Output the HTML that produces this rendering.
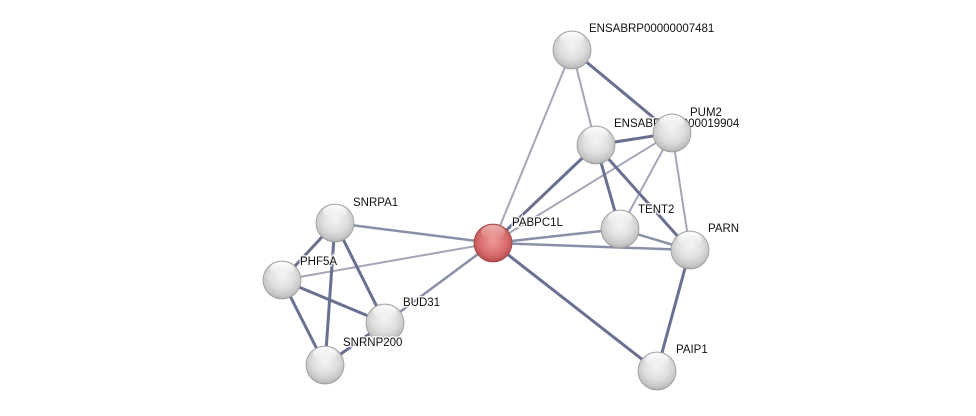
<!DOCTYPE html>
<html><head><meta charset="utf-8"><style>html,body{margin:0;padding:0;background:#fff;}svg{display:block}</style></head>
<body>
<svg width="976" height="416" viewBox="0 0 976 416" xmlns="http://www.w3.org/2000/svg">
<defs>
<radialGradient id="g" cx="50%" cy="40%" r="62%">
<stop offset="0" stop-color="#f4f4f4"/><stop offset="0.55" stop-color="#dedede"/><stop offset="0.85" stop-color="#c4c4c4"/><stop offset="1" stop-color="#a8a8a8"/>
</radialGradient>
<radialGradient id="r" cx="50%" cy="45%" r="62%">
<stop offset="0" stop-color="#f09a9a"/><stop offset="0.6" stop-color="#d86c6c"/><stop offset="1" stop-color="#a84040"/>
</radialGradient>
<linearGradient id="hl" x1="0" y1="0" x2="0" y2="1"><stop offset="0" stop-color="#fff" stop-opacity="0.95"/><stop offset="1" stop-color="#fff" stop-opacity="0"/></linearGradient>
</defs>
<g stroke-linecap="butt">
<g stroke="#a2a6b8" stroke-width="2">
<line x1="493" y1="243" x2="572" y2="50"/>
<line x1="493" y1="243" x2="672" y2="133"/>
<line x1="493" y1="243" x2="282" y2="280"/>
<line x1="572" y1="50" x2="596" y2="145"/>
<line x1="672" y1="133" x2="620" y2="229"/>
<line x1="672" y1="133" x2="690" y2="250"/>
</g>
<g stroke="#8a90a8" stroke-width="2.5">
<line x1="493" y1="243" x2="620" y2="229"/>
<line x1="493" y1="243" x2="690" y2="250"/>
<line x1="493" y1="243" x2="335" y2="223"/>
<line x1="493" y1="243" x2="385" y2="323"/>
<line x1="620" y1="229" x2="690" y2="250"/>
</g>
<g stroke="#6a7090" stroke-width="3">
<line x1="493" y1="243" x2="596" y2="145"/>
<line x1="493" y1="243" x2="657" y2="371"/>
<line x1="572" y1="50" x2="672" y2="133"/>
<line x1="596" y1="145" x2="672" y2="133"/>
<line x1="596" y1="145" x2="620" y2="229"/>
<line x1="596" y1="145" x2="690" y2="250"/>
<line x1="690" y1="250" x2="657" y2="371"/>
<line x1="335" y1="223" x2="282" y2="280"/>
<line x1="335" y1="223" x2="325" y2="365"/>
<line x1="335" y1="223" x2="385" y2="323"/>
<line x1="282" y1="280" x2="385" y2="323"/>
<line x1="282" y1="280" x2="325" y2="365"/>
<line x1="325" y1="365" x2="385" y2="323"/>
</g>
</g>
<g font-family="Liberation Sans, sans-serif" font-size="11.5" fill="#111" stroke="#fff" stroke-width="3" paint-order="stroke" stroke-opacity="0.8">
<text x="589" y="32">ENSABRP00000007481</text>
<text x="614" y="127">ENSABRP00000019904</text>
<text x="690" y="116">PUM2</text>
<text x="638" y="213">TENT2</text>
<text x="708" y="232">PARN</text>
<text x="676" y="353">PAIP1</text>
<text x="512" y="226">PABPC1L</text>
<text x="353" y="206">SNRPA1</text>
<text x="403" y="306">BUD31</text>
</g>
<g stroke="#999" stroke-width="0.8">
<circle cx="572" cy="50" r="19" fill="url(#g)"/>
<circle cx="596" cy="145" r="19" fill="url(#g)"/>
<circle cx="672" cy="133" r="19" fill="url(#g)"/>
<circle cx="620" cy="229" r="19" fill="url(#g)"/>
<circle cx="690" cy="250" r="19" fill="url(#g)"/>
<circle cx="657" cy="371" r="19" fill="url(#g)"/>
<circle cx="335" cy="223" r="19" fill="url(#g)"/>
<circle cx="282" cy="280" r="19" fill="url(#g)"/>
<circle cx="385" cy="323" r="19" fill="url(#g)"/>
<circle cx="325" cy="365" r="19" fill="url(#g)"/>
<circle cx="493" cy="243" r="19" fill="url(#r)" stroke="#944"/>
</g>
<g fill="url(#hl)">
<ellipse cx="572" cy="39" rx="12" ry="7"/><ellipse cx="596" cy="134" rx="12" ry="7"/><ellipse cx="672" cy="122" rx="12" ry="7"/>
<ellipse cx="620" cy="218" rx="12" ry="7"/><ellipse cx="690" cy="239" rx="12" ry="7"/><ellipse cx="657" cy="360" rx="12" ry="7"/>
<ellipse cx="335" cy="212" rx="12" ry="7"/><ellipse cx="282" cy="269" rx="12" ry="7"/><ellipse cx="385" cy="312" rx="12" ry="7"/>
<ellipse cx="325" cy="354" rx="12" ry="7"/><ellipse cx="493" cy="232" rx="12" ry="7" opacity="0.5"/>
</g>
<g font-family="Liberation Sans, sans-serif" font-size="11.5" fill="#111" stroke="#fff" stroke-width="3" paint-order="stroke" stroke-opacity="0.8">
<text x="300" y="265">PHF5A</text>
<text x="343" y="346">SNRNP200</text>
</g>
</svg>
</body></html>
